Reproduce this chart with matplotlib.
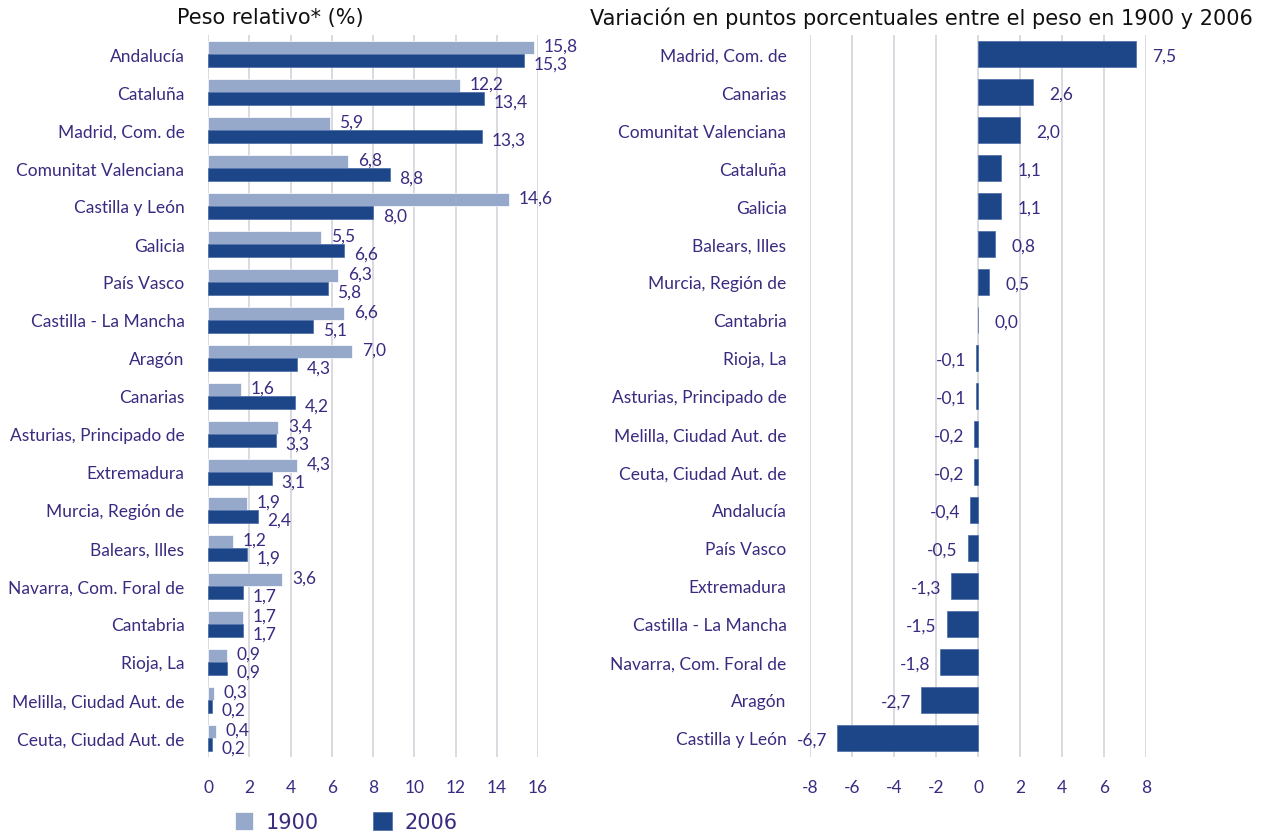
import matplotlib.pyplot as plt
import numpy as np

plt.rcParams['font.family'] = ['Lato', 'DejaVu Sans']

purple = '#3b2a80'
light = '#97a9cb'
dark = '#1d4689'
grid_c = '#d3d3dc'
fs = 12.5

# left panel: weight (%) by region
regions_l = ["Andalucía", "Cataluña", "Madrid, Com. de", "Comunitat Valenciana",
             "Castilla y León", "Galicia", "País Vasco", "Castilla - La Mancha",
             "Aragón", "Canarias", "Asturias, Principado de", "Extremadura",
             "Murcia, Región de", "Balears, Illes", "Navarra, Com. Foral de",
             "Cantabria", "Rioja, La", "Melilla, Ciudad Aut. de", "Ceuta, Ciudad Aut. de"]
peso_1900 = [15.8, 12.2, 5.9, 6.8, 14.6, 5.5, 6.3, 6.6, 7.0, 1.6, 3.4, 4.3, 1.9, 1.2, 3.6, 1.7, 0.9, 0.3, 0.4]
peso_2006 = [15.3, 13.4, 13.3, 8.8, 8.0, 6.6, 5.8, 5.1, 4.3, 4.2, 3.3, 3.1, 2.4, 1.9, 1.7, 1.7, 0.9, 0.2, 0.2]

# right panel: change in percentage points
regions_r = ["Madrid, Com. de", "Canarias", "Comunitat Valenciana", "Cataluña", "Galicia",
             "Balears, Illes", "Murcia, Región de", "Cantabria", "Rioja, La",
             "Asturias, Principado de", "Melilla, Ciudad Aut. de", "Ceuta, Ciudad Aut. de",
             "Andalucía", "País Vasco", "Extremadura", "Castilla - La Mancha",
             "Navarra, Com. Foral de", "Aragón", "Castilla y León"]
variacion = [7.5, 2.6, 2.0, 1.1, 1.1, 0.8, 0.5, 0.0, -0.1, -0.1, -0.2, -0.2, -0.4, -0.5, -1.3, -1.5, -1.8, -2.7, -6.7]


def fmt(v):
    return f"{v:.1f}".replace('.', ',')


def style_axis(ax, ticks):
    for s in ax.spines.values():
        s.set_visible(False)
    ax.set_xticks(ticks)
    ax.set_xticklabels([str(t) for t in ticks])
    ax.tick_params(axis='both', length=0, colors=purple, labelsize=fs)
    ax.tick_params(axis='x', pad=16)
    ax.tick_params(axis='y', pad=17)
    ax.xaxis.grid(True, color=grid_c, linewidth=1.2)
    ax.set_axisbelow(True)


fig = plt.figure(figsize=(12.67, 8.37), dpi=100)
ax1 = fig.add_axes([208 / 1267, 1 - 758 / 837, 330 / 1267, 722 / 837])
ax2 = fig.add_axes([810 / 1267, 1 - 758 / 837, 336 / 1267, 722 / 837])

y = np.arange(len(regions_l))
h = 0.35
ax1.barh(y - h / 2, peso_1900, h, color=light, edgecolor='white', linewidth=0.5, label='1900')
ax1.barh(y + h / 2, peso_2006, h, color=dark, edgecolor='#4a6aa8', linewidth=0.5, label='2006')
for i, (a, b) in enumerate(zip(peso_1900, peso_2006)):
    ax1.annotate(fmt(a), (a, i - h / 2 - 0.05), xytext=(7, 0), textcoords='offset points',
                 va='center', ha='left', color=purple, fontsize=fs)
    ax1.annotate(fmt(b), (b, i + h / 2 + 0.08), xytext=(7, 0), textcoords='offset points',
                 va='center', ha='left', color=purple, fontsize=fs)
ax1.set_yticks(y)
ax1.set_yticklabels(regions_l)
ax1.set_ylim(len(regions_l) - 0.5, -0.5)
ax1.set_xlim(0, 16)
style_axis(ax1, list(range(0, 17, 2)))

y2 = np.arange(len(regions_r))
ax2.barh(y2, variacion, 0.68, color=dark, edgecolor='#4a6aa8', linewidth=0.5)
for i, v in enumerate(variacion):
    if v >= 0:
        ax2.annotate(fmt(v), (v, i + 0.05), xytext=(12, 0), textcoords='offset points',
                     va='center', ha='left', color=purple, fontsize=fs)
    else:
        ax2.annotate(fmt(v), (v, i + 0.05), xytext=(-7, 0), textcoords='offset points',
                     va='center', ha='right', color=purple, fontsize=fs)
ax2.set_yticks(y2)
ax2.set_yticklabels(regions_r)
ax2.set_ylim(len(regions_r) - 0.5, -0.5)
ax2.set_xlim(-8, 8)
style_axis(ax2, list(range(-8, 9, 2)))

fig.text(270 / 1267, 1 - 18 / 837, "Peso relativo* (%)", ha='center', va='center',
         fontsize=15, color='#111111', family='DejaVu Sans')
fig.text(1253 / 1267, 1 - 18 / 837, "Variación en puntos porcentuales entre el peso en 1900 y 2006",
         ha='right', va='center', fontsize=15, color='#111111', family='DejaVu Sans')

handles, labels = ax1.get_legend_handles_labels()
fig.legend(handles, labels, loc='center', bbox_to_anchor=(346 / 1267, 1 - 823 / 837), ncol=2,
           frameon=False, labelcolor=purple, handlelength=0.9, handleheight=1.0,
           columnspacing=2.6, handletextpad=0.6, prop={'family': 'DejaVu Sans', 'size': 15})

fig.savefig('out.png', dpi=100)
